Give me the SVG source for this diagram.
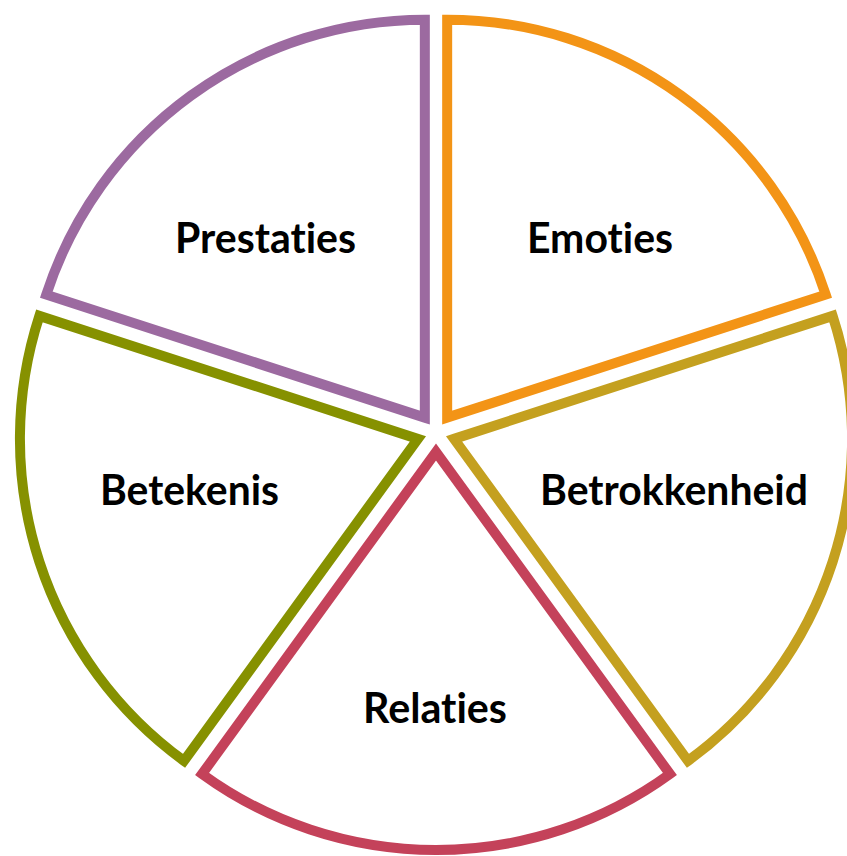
<svg xmlns="http://www.w3.org/2000/svg" width="847" height="856" viewBox="0 0 847 856">
<style>
.slice{fill:#ffffff;stroke-width:10;stroke-linejoin:miter;stroke-miterlimit:10}
.lbl{font-family:Lato,"Open Sans","Liberation Sans",sans-serif;font-weight:bold;font-size:41.5px;fill:#000000;text-anchor:middle;font-variant-ligatures:none;font-feature-settings:"liga" 0}
</style>
<rect x="0" y="0" width="847" height="856" fill="#ffffff"/>
<g id="emoties">
<path class="slice" stroke="#f39416" d="M 447.17 417.63 L 447.17 19.63 A 398 398 0 0 1 825.70 294.64 Z"/>
<text class="lbl" x="600" y="253" textLength="146" lengthAdjust="spacingAndGlyphs">Emoties</text>
</g>
<g id="betrokkenheid">
<path class="slice" stroke="#c4a01f" d="M 454.07 438.87 L 832.60 315.88 A 398 398 0 0 1 688.00 760.86 Z"/>
<text class="lbl" x="674" y="505" textLength="268" lengthAdjust="spacingAndGlyphs">Betrokkenheid</text>
</g>
<g id="relaties">
<path class="slice" stroke="#c4425a" d="M 436 452 L 669.93 773.99 A 398 398 0 0 1 202.07 773.99 Z"/>
<text class="lbl" x="435" y="723" textLength="144" lengthAdjust="spacingAndGlyphs">Relaties</text>
</g>
<g id="betekenis">
<path class="slice" stroke="#869100" d="M 417.93 438.87 L 184.00 760.86 A 398 398 0 0 1 39.40 315.88 Z"/>
<text class="lbl" x="189.5" y="505" textLength="179" lengthAdjust="spacingAndGlyphs">Betekenis</text>
</g>
<g id="prestaties">
<path class="slice" stroke="#9c6aa0" d="M 424.83 417.63 L 46.30 294.64 A 398 398 0 0 1 424.83 19.63 Z"/>
<text class="lbl" x="265.5" y="253" textLength="181" lengthAdjust="spacingAndGlyphs">Prestaties</text>
</g>
<g id="connectors"></g>
</svg>
